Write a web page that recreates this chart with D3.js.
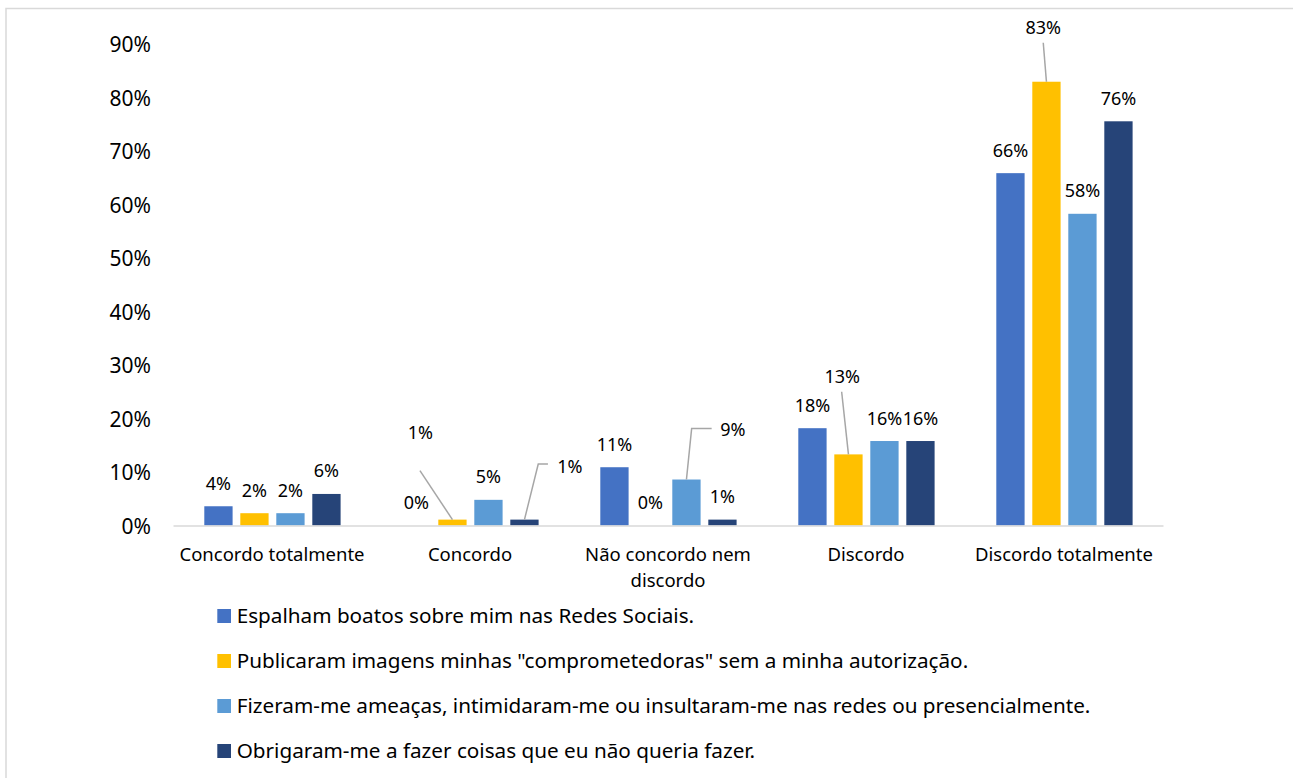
<!DOCTYPE html>
<html><head><meta charset="utf-8">
<script src="https://cdn.jsdelivr.net/npm/d3@7"></script>
<style>
html,body{margin:0;padding:0;background:#fff;}
svg{display:block;}
text{font-family:"Noto Sans",sans-serif;fill:#000;}
</style></head>
<body>
<svg id="chart" width="1293" height="778"></svg>
<script>
const categories = ["Concordo totalmente", "Concordo", "Não concordo nem discordo", "Discordo", "Discordo totalmente"];
const seriesNames = [
  "Espalham boatos sobre mim nas Redes Sociais.",
  "Publicaram imagens minhas \"comprometedoras\" sem a minha autorização.",
  "Fizeram-me ameaças, intimidaram-me ou insultaram-me nas redes ou presencialmente.",
  "Obrigaram-me a fazer coisas que eu não queria fazer."
];
const espalham   = [3.6, 0, 10.9, 18.2, 65.9];
const publicaram = [2.3, 1.1, 0, 13.3, 83.0];
const fizeram    = [2.3, 4.8, 8.6, 15.8, 58.3];
const obrigaram  = [5.9, 1.1, 1.1, 15.8, 75.6];
const labelTexts = [
  ["4%", "0%", "11%", "18%", "66%"],
  ["2%", "1%", "0%", "13%", "83%"],
  ["2%", "5%", "9%", "16%", "58%"],
  ["6%", "1%", "1%", "16%", "76%"]
];
const yTicks = [0, 10, 20, 30, 40, 50, 60, 70, 80, 90];
const colors = ["#4472C4", "#FFC000", "#5B9BD5", "#264478"];
const seriesValues = [espalham, publicaram, fizeram, obrigaram];

// label layout adjustments (pixels) for labels moved with leader lines: key "series-category"
const labelMoves = {
  "1-1": {dx: -32, dy: -64, leader: [[-0.5, 38]]},
  "3-1": {dx: 45.5, dy: -30.5, leader: [[-22, -2], [-31.7, -2]]},
  "2-2": {dx: 46.5, dy: -27, leader: [[-21.3, -1], [-41.3, -1]]},
  "1-3": {dx: -6.2, dy: -54.6, leader: [[-0.6, 15]]},
  "1-4": {dx: -3.2, dy: -31, leader: [[0, 15]]}
};

const svg = d3.select("#chart");

// outer frame
svg.append("rect").attr("x", 6).attr("y", 8.5).attr("width", 1300).attr("height", 800)
  .attr("fill", "none").attr("stroke", "#d9d9d9").attr("stroke-width", 1.5);

const plot = {left: 173, right: 1163, top: 44.3, bottom: 525.5};

const x0 = d3.scaleBand().domain(categories).range([plot.left, plot.right]);
const x1 = d3.scaleBand().domain(d3.range(4)).range([31.3, 31.3 + 136.3]).paddingInner(0.214);
const y = d3.scaleLinear().domain([0, 90]).range([plot.bottom, plot.top]);

// y axis labels
const yAxis = d3.axisLeft(y).tickValues(yTicks).tickFormat(d => d + "%").tickSize(0).tickPadding(0);
const yg = svg.append("g").attr("transform", `translate(${151},0)`).call(yAxis);
yg.select(".domain").remove();
yg.selectAll("text").attr("font-family", "Noto Sans").attr("font-size", 21).attr("fill", "#000").attr("dy", "0.36em");

// bars
const bars = [];
seriesValues.forEach((vals, s) => {
  vals.forEach((v, c) => bars.push({s, c, v, text: labelTexts[s][c]}));
});
svg.append("g").selectAll("rect").data(bars.filter(d => d.v > 0)).join("rect")
  .attr("x", d => x0(categories[d.c]) + x1(d.s))
  .attr("width", x1.bandwidth())
  .attr("y", d => y(d.v))
  .attr("height", d => y(0) - y(d.v))
  .attr("fill", d => colors[d.s]);

// x axis line
const xAxis = d3.axisBottom(x0).tickSize(0).tickFormat("");
const xg = svg.append("g").attr("transform", `translate(0,${plot.bottom})`).call(xAxis);
xg.select(".domain").attr("stroke", "#d9d9d9").attr("stroke-width", 1.5);

// category labels (wrapped)
const catLines = {"Não concordo nem discordo": ["Não concordo nem", "discordo"]};
categories.forEach(cat => {
  const lines = catLines[cat] || [cat];
  const cx = x0(cat) + x0.bandwidth() / 2;
  lines.forEach((ln, i) => {
    svg.append("text").attr("x", cx).attr("y", 554 + i * 26).attr("dy", "0.36em")
      .attr("text-anchor", "middle").attr("font-size", 18.5).text(ln);
  });
});

// data labels + leaders
const lg = svg.append("g");
bars.forEach(d => {
  const bx = x0(categories[d.c]) + x1(d.s) + x1.bandwidth() / 2;
  const top = y(d.v);
  let lx = bx, ly = top - 23;
  const mv = labelMoves[d.s + "-" + d.c];
  if (mv) {
    lx += mv.dx; ly += mv.dy;
    const pts = mv.leader.map(p => [lx + p[0], ly + p[1]]);
    pts.push([bx, top]);
    lg.append("path").attr("d", d3.line()(pts)).attr("fill", "none")
      .attr("stroke", "#a6a6a6").attr("stroke-width", 1.5);
  }
  lg.append("text").attr("x", lx).attr("y", ly).attr("dy", "0.36em")
    .attr("text-anchor", "middle").attr("font-size", 18).text(d.text);
});

// legend
const leg = svg.append("g");
seriesNames.forEach((name, i) => {
  const yy = 616 + i * 45;
  leg.append("rect").attr("x", 217.3).attr("y", yy - 7).attr("width", 13.7).attr("height", 14).attr("fill", colors[i]);
  leg.append("text").attr("x", 236.7).attr("y", yy).attr("dy", "0.36em").attr("font-size", 20.7).text(name);
});
</script>
</body></html>
